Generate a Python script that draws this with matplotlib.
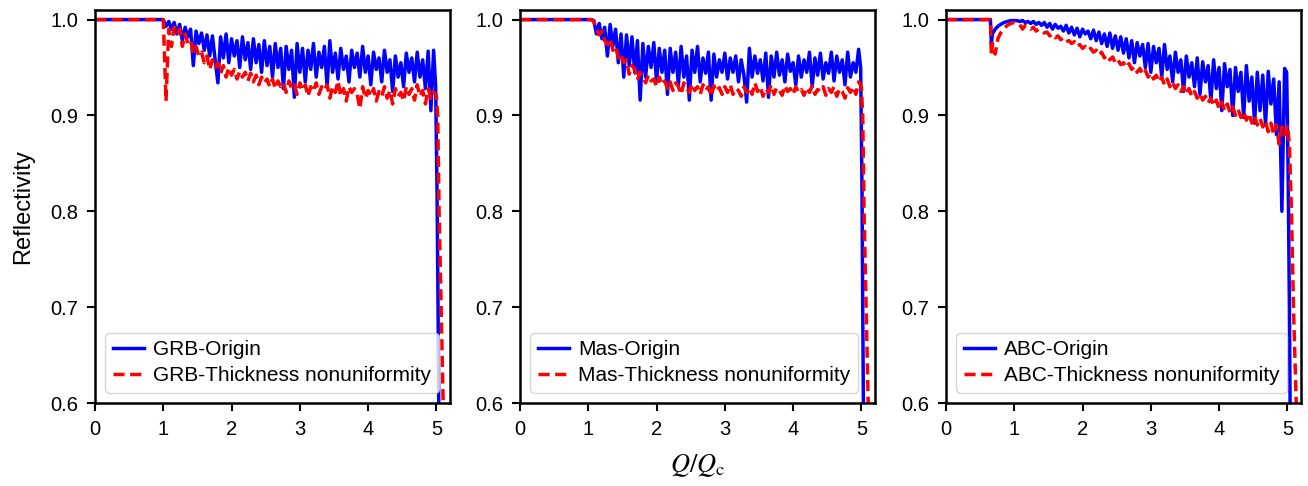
import numpy as np
import matplotlib.pyplot as plt

plt.rcParams['font.family'] = ['Liberation Sans', 'DejaVu Sans']
plt.rcParams['mathtext.fontset'] = 'stix'

q_grid = np.round(np.arange(1.0, 4.97, 0.04), 2)

# ---- GRB ----
grb_head_x = [0.0, 0.99]
grb_head_blue = [1.0, 1.0]
grb_head_red = [1.0, 1.0]
grb_blue = [
    1.000, 0.993, 0.998, 0.990, 0.997, 0.985, 0.995, 0.978, 0.992, 0.982,
    0.990, 0.952, 0.988, 0.975, 0.986, 0.968, 0.984, 0.962, 0.983, 0.958,
    0.934, 0.982, 0.960, 0.985, 0.955, 0.980, 0.962, 0.978, 0.950, 0.982,
    0.958, 0.976, 0.948, 0.980, 0.955, 0.974, 0.945, 0.978, 0.952, 0.972,
    0.940, 0.975, 0.950, 0.970, 0.928, 0.972, 0.948, 0.968, 0.919, 0.975,
    0.945, 0.970, 0.935, 0.968, 0.948, 0.975, 0.940, 0.966, 0.950, 0.972,
    0.930, 0.978, 0.945, 0.965, 0.938, 0.970, 0.948, 0.962, 0.935, 0.968,
    0.950, 0.965, 0.940, 0.972, 0.945, 0.962, 0.932, 0.966, 0.948, 0.960,
    0.935, 0.968, 0.945, 0.958, 0.925, 0.962, 0.940, 0.955, 0.930, 0.965,
    0.945, 0.960, 0.935, 0.966, 0.940, 0.958, 0.928, 0.967, 0.905, 0.968,
]
grb_red = [
    1.000, 0.915, 0.990, 0.972, 0.992, 0.985, 0.990, 0.972, 0.985, 0.975,
    0.978, 0.965, 0.972, 0.962, 0.966, 0.955, 0.962, 0.948, 0.958, 0.950,
    0.955, 0.944, 0.952, 0.940, 0.950, 0.942, 0.948, 0.938, 0.946, 0.940,
    0.945, 0.936, 0.944, 0.935, 0.942, 0.932, 0.940, 0.934, 0.938, 0.930,
    0.938, 0.928, 0.936, 0.930, 0.934, 0.924, 0.936, 0.928, 0.932, 0.922,
    0.934, 0.926, 0.932, 0.920, 0.930, 0.925, 0.934, 0.922, 0.930, 0.926,
    0.932, 0.918, 0.930, 0.924, 0.936, 0.920, 0.928, 0.915, 0.930, 0.924,
    0.928, 0.922, 0.907, 0.930, 0.918, 0.926, 0.920, 0.928, 0.915, 0.925,
    0.920, 0.930, 0.918, 0.926, 0.912, 0.928, 0.920, 0.924, 0.915, 0.930,
    0.922, 0.928, 0.916, 0.932, 0.920, 0.926, 0.912, 0.928, 0.918, 0.925,
]
grb_tail_x_blue = [4.99, 5.01, 5.025, 5.035, 5.05]
grb_tail_blue = [0.930, 0.820, 0.700, 0.600, 0.450]
grb_tail_x_red = [5.00, 5.02, 5.04, 5.07, 5.10, 5.13]
grb_tail_red = [0.920, 0.900, 0.800, 0.700, 0.600, 0.500]

# ---- Mas ----
mas_head_x = [0.0, 0.99]
mas_head_blue = [1.0, 1.0]
mas_head_red = [1.0, 1.0]
mas_blue = [
    1.000, 1.000, 0.999, 0.985, 0.996, 0.980, 0.992, 0.962, 0.995, 0.972,
    0.990, 0.955, 0.985, 0.940, 0.984, 0.952, 0.982, 0.945, 0.978, 0.916,
    0.975, 0.940, 0.972, 0.950, 0.976, 0.935, 0.970, 0.945, 0.968, 0.922,
    0.970, 0.945, 0.966, 0.932, 0.972, 0.940, 0.962, 0.916, 0.968, 0.945,
    0.972, 0.935, 0.960, 0.944, 0.966, 0.916, 0.964, 0.940, 0.958, 0.945,
    0.965, 0.938, 0.960, 0.945, 0.962, 0.935, 0.958, 0.942, 0.914, 0.970,
    0.940, 0.962, 0.944, 0.958, 0.936, 0.965, 0.919, 0.962, 0.940, 0.966,
    0.942, 0.958, 0.935, 0.964, 0.946, 0.955, 0.932, 0.962, 0.940, 0.958,
    0.945, 0.966, 0.930, 0.960, 0.942, 0.965, 0.938, 0.955, 0.944, 0.966,
    0.936, 0.962, 0.945, 0.958, 0.932, 0.966, 0.940, 0.955, 0.945, 0.969,
]
mas_red = [
    1.000, 1.000, 0.998, 0.990, 0.984, 0.988, 0.978, 0.974, 0.980, 0.968,
    0.972, 0.960, 0.964, 0.955, 0.958, 0.943, 0.952, 0.948, 0.937, 0.945,
    0.940, 0.934, 0.942, 0.936, 0.938, 0.930, 0.940, 0.932, 0.936, 0.928,
    0.935, 0.926, 0.934, 0.930, 0.922, 0.934, 0.928, 0.924, 0.933, 0.926,
    0.930, 0.922, 0.932, 0.926, 0.930, 0.920, 0.931, 0.925, 0.929, 0.922,
    0.930, 0.924, 0.932, 0.922, 0.928, 0.926, 0.920, 0.930, 0.924, 0.929,
    0.922, 0.934, 0.925, 0.930, 0.920, 0.928, 0.924, 0.932, 0.922, 0.929,
    0.926, 0.921, 0.931, 0.925, 0.928, 0.922, 0.930, 0.924, 0.927, 0.921,
    0.929, 0.924, 0.931, 0.922, 0.927, 0.925, 0.930, 0.921, 0.928, 0.924,
    0.930, 0.920, 0.928, 0.925, 0.918, 0.929, 0.924, 0.930, 0.922, 0.935,
]
mas_tail_x_blue = [4.99, 5.01, 5.02, 5.03, 5.05]
mas_tail_blue = [0.950, 0.820, 0.700, 0.600, 0.450]
mas_tail_x_red = [5.00, 5.02, 5.04, 5.07, 5.10, 5.13]
mas_tail_red = [0.930, 0.900, 0.800, 0.700, 0.600, 0.500]

# ---- ABC ----
abc_head_x = [0.0, 0.65, 0.665, 0.68, 0.72, 0.76, 0.80, 0.85, 0.90, 0.95]
abc_head_blue = [1.0, 1.0, 0.975, 0.985, 0.990, 0.993, 0.995, 0.997, 0.998, 0.999]
abc_head_red = [1.0, 1.0, 0.962, 0.975, 0.964, 0.980, 0.986, 0.991, 0.994, 0.996]
abc_blue = [
    0.999, 0.999, 0.998, 0.999, 0.997, 0.998, 0.996, 0.998, 0.995, 0.997,
    0.994, 0.997, 0.992, 0.996, 0.990, 0.995, 0.991, 0.993, 0.988, 0.994,
    0.986, 0.992, 0.984, 0.991, 0.982, 0.990, 0.985, 0.988, 0.980, 0.989,
    0.978, 0.987, 0.975, 0.985, 0.972, 0.986, 0.970, 0.983, 0.968, 0.982,
    0.965, 0.980, 0.960, 0.978, 0.955, 0.976, 0.962, 0.974, 0.950, 0.975,
    0.945, 0.972, 0.955, 0.970, 0.940, 0.974, 0.948, 0.962, 0.935, 0.966,
    0.945, 0.958, 0.925, 0.962, 0.940, 0.955, 0.930, 0.960, 0.922, 0.956,
    0.935, 0.952, 0.915, 0.958, 0.928, 0.950, 0.905, 0.954, 0.930, 0.948,
    0.900, 0.950, 0.925, 0.945, 0.898, 0.952, 0.915, 0.940, 0.892, 0.945,
    0.905, 0.942, 0.890, 0.946, 0.912, 0.938, 0.880, 0.935, 0.800, 0.949,
]
abc_red = [
    0.997, 0.996, 0.995, 0.990, 0.994, 0.993, 0.990, 0.992, 0.988, 0.990,
    0.988, 0.986, 0.987, 0.983, 0.985, 0.981, 0.983, 0.979, 0.981, 0.977,
    0.978, 0.975, 0.977, 0.972, 0.974, 0.970, 0.972, 0.968, 0.970, 0.966,
    0.968, 0.963, 0.966, 0.960, 0.963, 0.958, 0.961, 0.955, 0.958, 0.953,
    0.955, 0.950, 0.954, 0.948, 0.951, 0.945, 0.949, 0.943, 0.947, 0.940,
    0.944, 0.938, 0.942, 0.935, 0.940, 0.932, 0.938, 0.930, 0.935, 0.928,
    0.932, 0.925, 0.930, 0.922, 0.928, 0.920, 0.925, 0.918, 0.923, 0.916,
    0.920, 0.913, 0.918, 0.910, 0.916, 0.907, 0.914, 0.905, 0.912, 0.903,
    0.909, 0.900, 0.906, 0.898, 0.904, 0.895, 0.902, 0.892, 0.900, 0.890,
    0.897, 0.888, 0.894, 0.883, 0.892, 0.880, 0.890, 0.870, 0.888, 0.880,
]
abc_tail_x_blue = [4.99, 5.01, 5.03, 5.04, 5.06]
abc_tail_blue = [0.945, 0.850, 0.700, 0.600, 0.450]
abc_tail_x_red = [5.00, 5.03, 5.06, 5.09, 5.13, 5.16]
abc_tail_red = [0.890, 0.870, 0.800, 0.700, 0.600, 0.500]

panels = [
    ('GRB', grb_head_x, grb_head_blue, grb_head_red, grb_blue, grb_red,
     grb_tail_x_blue, grb_tail_blue, grb_tail_x_red, grb_tail_red),
    ('Mas', mas_head_x, mas_head_blue, mas_head_red, mas_blue, mas_red,
     mas_tail_x_blue, mas_tail_blue, mas_tail_x_red, mas_tail_red),
    ('ABC', abc_head_x, abc_head_blue, abc_head_red, abc_blue, abc_red,
     abc_tail_x_blue, abc_tail_blue, abc_tail_x_red, abc_tail_red),
]

fig = plt.figure(figsize=(13.08, 4.86), dpi=100)
W, H = 1308.0, 486.0
lefts = [95, 520, 946]
axes = [fig.add_axes([l / W, 83 / H, 355 / W, 393 / H]) for l in lefts]

for ax, (name, hx, hb, hr, yb, yr, txb, tb, txr, tr) in zip(axes, panels):
    xb = np.concatenate([hx, q_grid, txb])
    xr = np.concatenate([hx, q_grid, txr])
    ax.plot(xb, np.concatenate([hb, yb, tb]), color='blue', lw=2.5, label=f'{name}-Origin')
    ax.plot(xr, np.concatenate([hr, yr, tr]), color='red', lw=2.5, ls='--',
            dashes=(3.2, 1.6), label=f'{name}-Thickness nonuniformity')
    ax.set_xlim(0, 5.2)
    ax.set_ylim(0.6, 1.01)
    ax.set_xticks([0, 1, 2, 3, 4, 5])
    ax.set_yticks([0.6, 0.7, 0.8, 0.9, 1.0])
    ax.tick_params(labelsize=14.5, width=1.5, length=6, pad=6)
    for s in ax.spines.values():
        s.set_linewidth(1.8)
    ax.legend(loc='lower left', fontsize=15, handlelength=1.5, handletextpad=0.45,
              borderpad=0.35, labelspacing=0.35, borderaxespad=0.5)

axes[0].set_ylabel('Reflectivity', fontsize=17, labelpad=12)
axes[1].set_xlabel(r'$Q/Q_{\mathrm{c}}$', fontsize=19, labelpad=10)

fig.savefig('out.png', dpi=100)
